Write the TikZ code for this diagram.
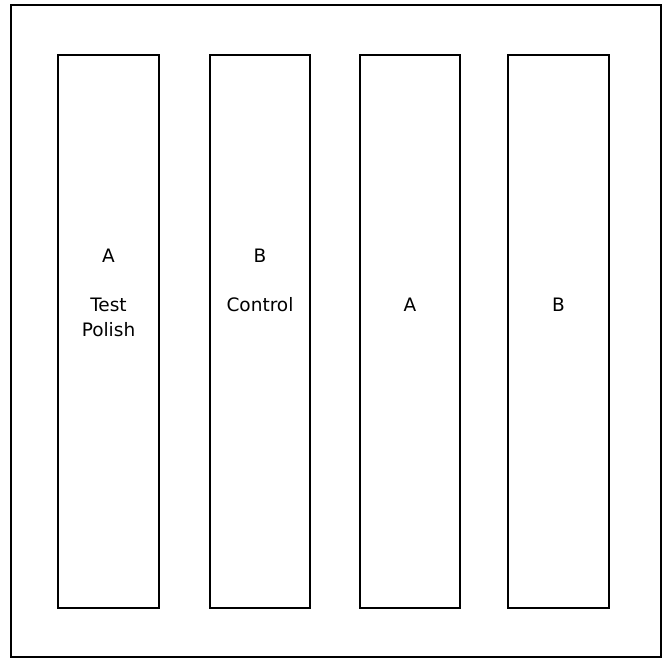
\documentclass[tikz,border=0pt]{standalone}
\usepackage{fontspec}
\setmainfont{DejaVu Sans}
\begin{document}
\begin{tikzpicture}[x=1pt,y=-1pt,
  frame/.style={draw=black,line width=2.4pt},
  strip/.style={draw=black,line width=2.4pt},
  lbl/.style={font=\fontsize{18.5}{26}\selectfont,align=center,inner sep=0pt}]
\useasboundingbox (0,0) rectangle (667,660);
% outer frame
\draw[frame] (11,5) rectangle (661,657);
% four strips
\draw[strip] (58,55) rectangle (159,608);
\draw[strip] (210,55) rectangle (310,608);
\draw[strip] (360,55) rectangle (460,608);
\draw[strip] (508,55) rectangle (609,608);
% labels
\node[lbl] (a1) at (108.5,256) {A};
\node[lbl] (t1) at (108.5,317) {Test\\[-1pt]Polish};
\node[lbl] (b1) at (260,256) {B};
\node[lbl] (c1) at (260,305) {Control};
\node[lbl] (a2) at (410,305) {A};
\node[lbl] (b2) at (558.5,305) {B};
\end{tikzpicture}
\end{document}
